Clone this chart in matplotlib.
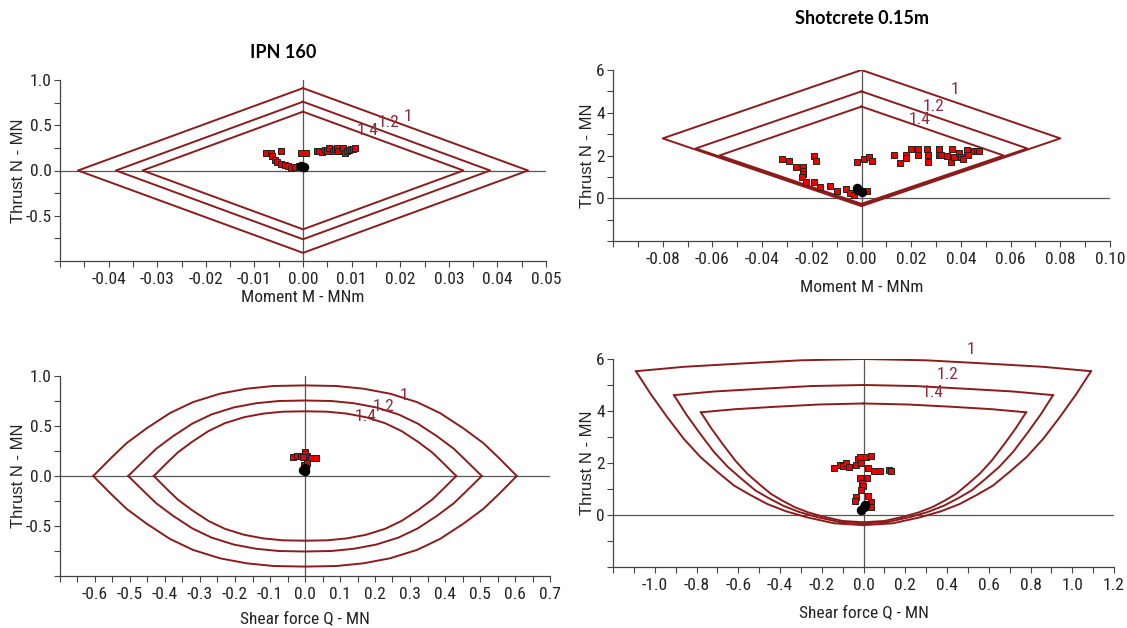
import os
import matplotlib
matplotlib.use("Agg")
import matplotlib.pyplot as plt
from matplotlib import font_manager
from matplotlib.font_manager import FontProperties
from matplotlib.ticker import MultipleLocator

# ---------------- data ----------------
# IPN 160, thrust vs moment: capacity envelopes (closed diamonds) for FS 1, 1.2, 1.4
env_mn_ipn_m = {
    "1":   [0.0, 0.0463, 0.0, -0.0463, 0.0],
    "1.2": [0.0, 0.0385, 0.0, -0.0385, 0.0],
    "1.4": [0.0, 0.0330, 0.0, -0.0330, 0.0],
}
env_mn_ipn_n = {
    "1":   [0.91, 0.0, -0.91, 0.0, 0.91],
    "1.2": [0.76, 0.0, -0.76, 0.0, 0.76],
    "1.4": [0.65, 0.0, -0.65, 0.0, 0.65],
}
pts_mn_ipn_m = [-0.0077, -0.0066, -0.0046, -0.0063, -0.0057, -0.0053, -0.0046, -0.0038,
                -0.0031, -0.0024, -0.0016, -0.0009, -0.0005, 0.0006, 0.0028, 0.0032,
                0.0039, 0.0046, 0.0050, 0.0054, 0.0061, 0.0065, 0.0069, 0.0072, 0.0076,
                0.0080, 0.0082, 0.0087, 0.0090, 0.0094, 0.0098, 0.0102, 0.0106]
pts_mn_ipn_n = [0.196, 0.196, 0.215, 0.160, 0.120, 0.093, 0.067, 0.056,
                0.048, 0.030, 0.037, 0.048, 0.190, 0.196, 0.215, 0.220,
                0.200, 0.230, 0.220, 0.250, 0.210, 0.240, 0.250, 0.220, 0.210,
                0.230, 0.250, 0.196, 0.220, 0.230, 0.240, 0.240, 0.250]
blk_mn_ipn_m = [0.0, -0.0004, 0.0003]
blk_mn_ipn_n = [0.04, 0.05, 0.035]

# Shotcrete 0.15 m, thrust vs moment
env_mn_sc_m = {
    "1":   [0.0, 0.0800, 0.0, -0.0800, 0.0],
    "1.2": [0.0, 0.0667, 0.0, -0.0667, 0.0],
    "1.4": [0.0, 0.0572, 0.0, -0.0572, 0.0],
}
env_mn_sc_n = {
    "1":   [6.00, 2.80, -0.37, 2.80, 6.00],
    "1.2": [5.00, 2.33, -0.31, 2.33, 5.00],
    "1.4": [4.29, 2.00, -0.26, 2.00, 4.29],
}
pts_mn_sc_m = [-0.0320, -0.0291, -0.0265, -0.0235, -0.0235, -0.0235, -0.0238, -0.0222,
               -0.0193, -0.0191, -0.0183, -0.0168, -0.0126, -0.0097, -0.0063, -0.0047,
               -0.0030, -0.0016, 0.0004, 0.0024, -0.0017, 0.0011, 0.0031, 0.0042,
               0.0132, 0.0156, 0.0179, 0.0179, 0.0199, 0.0226, 0.0228, 0.0263, 0.0269,
               0.0269, 0.0310, 0.0313, 0.0320, 0.0343, 0.0360, 0.0364, 0.0373, 0.0394,
               0.0400, 0.0407, 0.0424, 0.0427, 0.0451, 0.0465, 0.0471]
pts_mn_sc_n = [1.82, 1.74, 1.48, 1.48, 1.29, 1.14, 1.01, 0.75,
               0.75, 1.98, 1.74, 0.54, 0.58, 0.36, 0.42, 0.23,
               0.16, 0.34, 0.34, 0.34, 1.71, 1.82, 1.91, 1.74,
               2.01, 1.66, 2.01, 1.90, 2.30, 2.30, 2.01, 2.30, 2.01,
               1.71, 2.30, 2.01, 2.01, 1.98, 1.70, 2.30, 1.91, 2.13,
               1.91, 1.82, 2.26, 2.01, 2.22, 2.22, 2.22]
blk_mn_sc_m = [-0.0013, 0.0, -0.002]
blk_mn_sc_n = [0.39, 0.30, 0.50]

# IPN 160, thrust vs shear: upper half of the lens (mirrored for the lower half)
env_qn_ipn_q = {
    "1":   [-0.605, -0.555, -0.510, -0.452, -0.386, -0.320, -0.243, -0.167, -0.090, 0.0,
            0.090, 0.167, 0.243, 0.320, 0.386, 0.452, 0.510, 0.555, 0.605],
    "1.2": [-0.505, -0.462, -0.425, -0.377, -0.322, -0.267, -0.203, -0.139, -0.075, 0.0,
            0.075, 0.139, 0.203, 0.267, 0.322, 0.377, 0.425, 0.462, 0.505],
    "1.4": [-0.432, -0.396, -0.364, -0.323, -0.276, -0.229, -0.174, -0.119, -0.064, 0.0,
            0.064, 0.119, 0.174, 0.229, 0.276, 0.323, 0.364, 0.396, 0.432],
}
env_qn_ipn_n = {
    "1":   [0.0, 0.177, 0.328, 0.478, 0.629, 0.739, 0.823, 0.873, 0.900, 0.906,
            0.900, 0.873, 0.823, 0.739, 0.629, 0.478, 0.328, 0.177, 0.0],
    "1.2": [0.0, 0.148, 0.273, 0.398, 0.524, 0.616, 0.686, 0.728, 0.750, 0.755,
            0.750, 0.728, 0.686, 0.616, 0.524, 0.398, 0.273, 0.148, 0.0],
    "1.4": [0.0, 0.126, 0.234, 0.341, 0.449, 0.528, 0.588, 0.624, 0.643, 0.647,
            0.643, 0.624, 0.588, 0.528, 0.449, 0.341, 0.234, 0.126, 0.0],
}
pts_qn_ipn_q = [-0.035, -0.024, -0.011, 0.0, 0.006, 0.017, 0.031, -0.004, 0.0, -0.005, 0.005]
pts_qn_ipn_n = [0.187, 0.200, 0.204, 0.237, 0.204, 0.184, 0.177, 0.110, 0.220, 0.190, 0.130]
blk_qn_ipn_q = [0.0, 0.0, -0.005]
blk_qn_ipn_n = [0.05, 0.08, 0.06]

# Shotcrete 0.15 m, thrust vs shear: left half (corner -> bottom) and top arc (corner -> apex)
env_qn_sc_lower_q = {
    "1":   [-1.090, -1.020, -0.940, -0.860, -0.780, -0.700, -0.620, -0.540, -0.460, -0.370, -0.270, -0.140, 0.0],
    "1.2": [-0.908, -0.850, -0.783, -0.717, -0.650, -0.583, -0.517, -0.450, -0.383, -0.308, -0.225, -0.117, 0.0],
    "1.4": [-0.779, -0.729, -0.671, -0.614, -0.557, -0.500, -0.443, -0.386, -0.329, -0.264, -0.193, -0.100, 0.0],
}
env_qn_sc_lower_n = {
    "1":   [5.53, 4.66, 3.76, 2.92, 2.22, 1.66, 1.13, 0.76, 0.42, 0.14, -0.09, -0.32, -0.39],
    "1.2": [4.61, 3.88, 3.13, 2.43, 1.85, 1.38, 0.94, 0.63, 0.35, 0.117, -0.075, -0.267, -0.325],
    "1.4": [3.95, 3.33, 2.69, 2.09, 1.59, 1.19, 0.81, 0.54, 0.30, 0.10, -0.064, -0.229, -0.279],
}
env_qn_sc_top_q = {
    "1":   [-1.090, -0.860, -0.600, -0.300, 0.0],
    "1.2": [-0.908, -0.717, -0.500, -0.250, 0.0],
    "1.4": [-0.779, -0.614, -0.429, -0.214, 0.0],
}
env_qn_sc_top_n = {
    "1":   [5.53, 5.70, 5.82, 5.95, 6.00],
    "1.2": [4.61, 4.75, 4.85, 4.96, 5.00],
    "1.4": [3.95, 4.07, 4.16, 4.25, 4.29],
}
pts_qn_sc_q = [-0.142, -0.113, -0.097, -0.083, -0.070, -0.034, -0.027, -0.018, -0.011, 0.010,
               0.037, 0.021, 0.050, 0.077, 0.121, 0.133, -0.018, 0.018, -0.006, -0.003,
               -0.010, -0.034, 0.021, -0.043, 0.034, 0.010, 0.037]
pts_qn_sc_n = [1.81, 1.94, 1.90, 1.99, 1.86, 1.94, 2.16, 2.25, 1.99, 2.25,
               2.26, 1.81, 1.68, 1.68, 1.73, 1.68, 1.41, 1.43, 1.22, 1.10,
               0.96, 0.71, 0.75, 0.53, 0.49, 0.42, 0.32]
blk_qn_sc_q = [0.0, 0.005, -0.01]
blk_qn_sc_n = [0.30, 0.40, 0.20]

# envelope label positions (x, y) per panel
lab_mn_ipn = {"1": (0.0216, 0.60), "1.2": (0.0176, 0.525), "1.4": (0.0132, 0.445)}
lab_mn_sc = {"1": (0.0375, 5.07), "1.2": (0.0290, 4.30), "1.4": (0.0234, 3.68)}
lab_qn_ipn = {"1": (0.284, 0.806), "1.2": (0.224, 0.697), "1.4": (0.174, 0.593)}
lab_qn_sc = {"1": (0.516, 6.37), "1.2": (0.40, 5.42), "1.4": (0.333, 4.70)}

# tick values / labels
xt_mn_ipn = [-0.04, -0.03, -0.02, -0.01, 0.0, 0.01, 0.02, 0.03, 0.04, 0.05]
xl_mn_ipn = ["-0.04", "-0.03", "-0.02", "-0.01", "0.00", "0.01", "0.02", "0.03", "0.04", "0.05"]
yt_ipn = [-0.5, 0.0, 0.5, 1.0]
yl_ipn = ["-0.5", "0.0", "0.5", "1.0"]
xt_mn_sc = [-0.08, -0.06, -0.04, -0.02, 0.0, 0.02, 0.04, 0.06, 0.08, 0.10]
xl_mn_sc = ["-0.08", "-0.06", "-0.04", "-0.02", "0.00", "0.02", "0.04", "0.06", "0.08", "0.10"]
yt_sc = [0, 2, 4, 6]
yl_sc = ["0", "2", "4", "6"]
xt_qn_ipn = [-0.6, -0.5, -0.4, -0.3, -0.2, -0.1, 0.0, 0.1, 0.2, 0.3, 0.4, 0.5, 0.6, 0.7]
xl_qn_ipn = ["-0.6", "-0.5", "-0.4", "-0.3", "-0.2", "-0.1", "0.0", "0.1", "0.2", "0.3",
             "0.4", "0.5", "0.6", "0.7"]
xt_qn_sc = [-1.0, -0.8, -0.6, -0.4, -0.2, 0.0, 0.2, 0.4, 0.6, 0.8, 1.0, 1.2]
xl_qn_sc = ["-1.0", "-0.8", "-0.6", "-0.4", "-0.2", "0.0", "0.2", "0.4", "0.6", "0.8", "1.0", "1.2"]


# ---------------- fonts ----------------
def find_narrow():
    ents = font_manager.fontManager.ttflist
    for want in ["Liberation Sans Narrow", "Arial Narrow", "Roboto Condensed",
                 "Open Sans Condensed", "Noto Sans Condensed", "DejaVu Sans Condensed"]:
        for e in ents:
            if e.name == want and e.style == "normal" and e.weight in (400, "normal", "regular"):
                return e.fname
    for key in ["LiberationSansNarrow-Regular", "NotoSans-Condensed.", "OpenSans-Condensed",
                "OpenSans_Condensed-Regular", "Roboto_Condensed-Regular", "RobotoCondensed-Regular",
                "RobotoCondensed[", "DejaVuSansCondensed."]:
        for e in ents:
            if key in os.path.basename(e.fname):
                return e.fname
    return None


NARROW = find_narrow()
plt.rcParams["font.family"] = ["Liberation Sans", "DejaVu Sans"]


def fp(size):
    if NARROW:
        return FontProperties(fname=NARROW, size=size)
    return FontProperties(family=["Liberation Sans", "DejaVu Sans"], size=size * 0.88)


ENV = "#8c1c1c"
LAB = "#8e2a3a"
W, H = 1127, 628

fig = plt.figure(figsize=(W / 100, H / 100), dpi=100)


def px_axes(l, t, r, b):
    return fig.add_axes([l / W, 1 - b / H, (r - l) / W, (b - t) / H])


def setup(ax, xlim, ylim, xt, xl, yt, yl, xminor, yminor, xlabel, xlab_y, ylab_x):
    ax.set_xlim(xlim)
    ax.set_ylim(ylim)
    for s in ["top", "right"]:
        ax.spines[s].set_visible(False)
    for s in ["left", "bottom"]:
        ax.spines[s].set_color("#444444")
        ax.spines[s].set_linewidth(0.9)
    ax.set_xticks(xt, xl)
    ax.set_yticks(yt, yl)
    ax.xaxis.set_minor_locator(MultipleLocator(xminor))
    ax.yaxis.set_minor_locator(MultipleLocator(yminor))
    ax.tick_params(which="both", direction="out", length=4, width=0.8, colors="#444444",
                   labelcolor="#222222")
    ax.tick_params(axis="x", which="major", pad=4)
    ax.tick_params(axis="y", which="major", pad=2)
    for t in ax.get_xticklabels() + ax.get_yticklabels():
        t.set_fontproperties(fp(12.5))
    ax.axhline(0, color="#555555", lw=0.9, zorder=1)
    ax.axvline(0, color="#555555", lw=0.9, zorder=1)
    ax.set_xlabel(xlabel, fontproperties=fp(12.5), color="#222222")
    ax.set_ylabel("Thrust N - MN", fontsize=12, color="#222222")
    ax.xaxis.set_label_coords(0.5, xlab_y)
    ax.xaxis.label.set_verticalalignment("center")
    ax.yaxis.set_label_coords(ylab_x, 0.5)


def points(ax, x, y, bx, by):
    ax.scatter(x, y, marker="s", s=22, c="#ee0000", edgecolors="#222222", linewidths=0.7, zorder=4)
    ax.scatter(bx, by, marker="o", s=34, c="black", edgecolors="black", zorder=5)


def labels(ax, lab):
    for k, (x, y) in lab.items():
        ax.text(x, y, k, color=LAB, fontproperties=fp(12.5), ha="center", va="center", zorder=6)


# top left: IPN 160, moment
ax1 = px_axes(60, 80, 546, 261)
setup(ax1, (-0.05, 0.05), (-1, 1), xt_mn_ipn, xl_mn_ipn, yt_ipn, yl_ipn, 0.005, 0.25,
      "Moment M - MNm", -36 / 181, -0.070)
for k in env_mn_ipn_m:
    ax1.plot(env_mn_ipn_m[k], env_mn_ipn_n[k], color=ENV, lw=1.4, zorder=3)
points(ax1, pts_mn_ipn_m, pts_mn_ipn_n, blk_mn_ipn_m, blk_mn_ipn_n)
labels(ax1, lab_mn_ipn)

# top right: shotcrete, moment
ax2 = px_axes(613, 70, 1110, 241)
setup(ax2, (-0.1, 0.1), (-2, 6), xt_mn_sc, xl_mn_sc, yt_sc, yl_sc, 0.01, 1,
      "Moment M - MNm", -46 / 171, -0.036)
for k in env_mn_sc_m:
    ax2.plot(env_mn_sc_m[k], env_mn_sc_n[k], color=ENV, lw=1.4, zorder=3)
points(ax2, pts_mn_sc_m, pts_mn_sc_n, blk_mn_sc_m, blk_mn_sc_n)
labels(ax2, lab_mn_sc)

# bottom left: IPN 160, shear
ax3 = px_axes(60, 376, 550, 576)
setup(ax3, (-0.7, 0.7), (-1, 1), xt_qn_ipn, xl_qn_ipn, yt_ipn, yl_ipn, 0.05, 0.25,
      "Shear force Q - MN", -43 / 200, -0.069)
for k in env_qn_ipn_q:
    q = env_qn_ipn_q[k]
    n = env_qn_ipn_n[k]
    ax3.plot(q, n, color=ENV, lw=1.4, zorder=3)
    ax3.plot(q, [-v for v in n], color=ENV, lw=1.4, zorder=3)
points(ax3, pts_qn_ipn_q, pts_qn_ipn_n, blk_qn_ipn_q, blk_qn_ipn_n)
labels(ax3, lab_qn_ipn)

# bottom right: shotcrete, shear
ax4 = px_axes(613, 359, 1114, 567)
setup(ax4, (-1.2, 1.2), (-2, 6), xt_qn_sc, xl_qn_sc, yt_sc, yl_sc, 0.1, 1,
      "Shear force Q - MN", -46 / 208, -0.036)
for k in env_qn_sc_lower_q:
    for qs, ns in ((env_qn_sc_lower_q[k], env_qn_sc_lower_n[k]),
                   (env_qn_sc_top_q[k], env_qn_sc_top_n[k])):
        ax4.plot(qs, ns, color=ENV, lw=1.4, zorder=3)
        ax4.plot([-v for v in qs], ns, color=ENV, lw=1.4, zorder=3)
points(ax4, pts_qn_sc_q, pts_qn_sc_n, blk_qn_sc_q, blk_qn_sc_n)
labels(ax4, lab_qn_sc)

fig.text(283 / W, 1 - 52 / H, "IPN 160", ha="center", va="center", fontsize=13,
         fontweight="bold", family=["Lato", "DejaVu Sans"])
fig.text(862 / W, 1 - 18 / H, "Shotcrete 0.15m", ha="center", va="center", fontsize=13,
         fontweight="bold", family=["Lato", "DejaVu Sans"])

fig.savefig("out.png", dpi=100, facecolor="white")
